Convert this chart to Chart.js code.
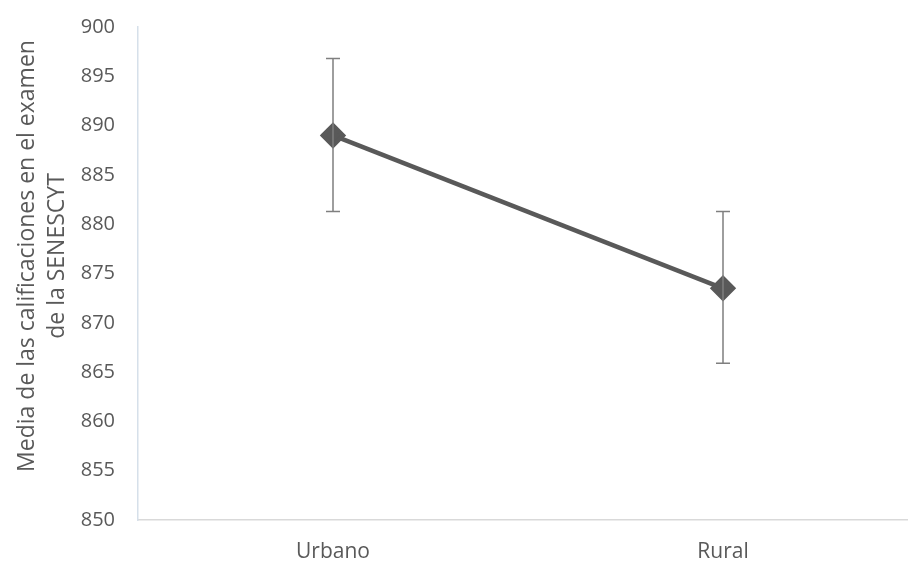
<!DOCTYPE html>
<html>
<head>
<meta charset="utf-8">
<script src="https://cdn.jsdelivr.net/npm/chart.js@4"></script>
<style>
html,body{margin:0;padding:0;background:#fff;}
#wrap{width:908px;height:563px;position:relative;}
</style>
</head>
<body>
<div id="wrap"><canvas id="c" width="908" height="563"></canvas></div>
<script>
const categories = ["Urbano", "Rural"];
const means = [889.0, 873.5];
const errLow = [881.3, 865.9];
const errHigh = [896.8, 881.3];
const yTicks = [850, 855, 860, 865, 870, 875, 880, 885, 890, 895, 900];
const yTitle = ["Media de las calificaciones en el examen", "de la SENESCYT"];

const errorBars = {
  id: 'errorBars',
  afterDatasetsDraw(chart) {
    const ctx = chart.ctx;
    const xs = chart.scales.x, ys = chart.scales.y;
    ctx.save();
    ctx.strokeStyle = '#7f7f7f';
    ctx.lineWidth = 1.5;
    categories.forEach((c, i) => {
      const x = xs.getPixelForValue(i);
      const yl = ys.getPixelForValue(errLow[i]);
      const yh = ys.getPixelForValue(errHigh[i]);
      ctx.beginPath();
      ctx.moveTo(x, yl); ctx.lineTo(x, yh);
      ctx.moveTo(x - 7, yl); ctx.lineTo(x + 7, yl);
      ctx.moveTo(x - 7, yh); ctx.lineTo(x + 7, yh);
      ctx.stroke();
    });
    ctx.restore();
  }
};

const yTitlePlugin = {
  id: 'yTitlePlugin',
  afterDraw(chart) {
    const ctx = chart.ctx;
    ctx.save();
    ctx.fillStyle = '#595959';
    ctx.font = '23px "Open Sans"';
    ctx.textAlign = 'center';
    ctx.textBaseline = 'middle';
    const cy = 256;
    const xs = [27, 57];
    yTitle.forEach((t, i) => {
      ctx.save();
      ctx.translate(xs[i], cy);
      ctx.rotate(-Math.PI / 2);
      ctx.fillText(t, 0, 0);
      ctx.restore();
    });
    ctx.restore();
  }
};

// the original plot area runs a little past the right edge of the picture
const extendX = {
  id: 'extendX',
  afterLayout(chart) {
    const x = chart.scales.x;
    x.right = 918;
    x.width = x.right - x.left;
    x.configure();
  }
};

new Chart(document.getElementById('c'), {
  type: 'line',
  data: {
    labels: categories,
    datasets: [{
      data: means,
      borderColor: '#595959',
      backgroundColor: '#595959',
      borderWidth: 4.5,
      pointStyle: 'rectRot',
      pointRadius: 10,
      pointHoverRadius: 10,
      pointBackgroundColor: '#595959',
      pointBorderColor: '#595959',
      tension: 0,
      clip: false
    }]
  },
  options: {
    responsive: false,
    animation: false,
    layout: { autoPadding: false, padding: { top: 27, right: 0, bottom: 0, left: 0 } },
    plugins: { legend: { display: false }, tooltip: { enabled: false } },
    scales: {
      x: {
        offset: true,
        grid: { display: false, drawTicks: false },
        border: { display: true, color: '#d9d9d9', width: 1.5 },
        ticks: { color: '#595959', font: { family: 'Open Sans', size: 21 }, padding: 19 },
        afterFit(scale) { scale.height = 43; }
      },
      y: {
        min: 850, max: 900,
        afterBuildTicks(axis) { axis.ticks = yTicks.map(v => ({ value: v })); },
        grid: { display: true, drawOnChartArea: false, color: 'rgba(0,0,0,0)', drawTicks: true, tickLength: 23, tickColor: 'rgba(0,0,0,0)' },
        border: { display: true, color: '#d6e0ea', width: 1.5 },
        ticks: { color: '#595959', font: { family: 'Open Sans', size: 20 }, padding: 0 },
        afterFit(scale) { scale.width = 138; }
      }
    }
  },
  plugins: [extendX, errorBars, yTitlePlugin]
});
</script>
</body>
</html>
